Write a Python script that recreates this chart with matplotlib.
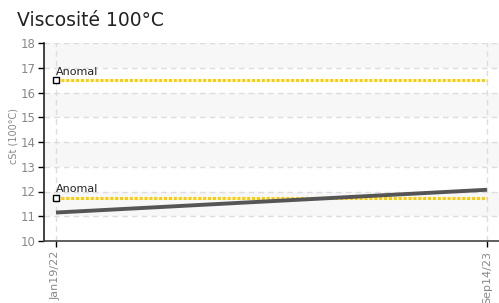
import matplotlib
matplotlib.use("Agg")
import matplotlib.pyplot as plt
from datetime import datetime, timedelta

dates = [datetime(2022, 1, 19), datetime(2023, 9, 14)]
values = [11.15, 12.07]
anomal_levels = [16.5, 11.75]
anomal_label = "Anomal"
tick_labels = ["Jan19/22", "Sep14/23"]
title = "Viscosité 100°C"
ylabel = "cSt (100°C)"

fig = plt.figure(figsize=(4.99, 3.03), dpi=100)
ax = fig.add_axes([44/499, 62/303, 455/499, 198/303])

ax.set_ylim(10, 18)
pad = timedelta(days=16.8)
ax.set_xlim(dates[0] - pad, dates[-1] + pad)

# alternating bands
for lo in range(10, 18):
    if lo % 2 == 1:
        ax.axhspan(lo, lo + 1, color="#f7f7f7", zorder=0, lw=0)

for y in range(10, 19):
    ax.axhline(y, color="#dddddd", lw=1, ls=(0, (4, 3)), zorder=1)
for d in dates:
    ax.axvline(d, color="#dddddd", lw=1, ls=(0, (4, 3)), zorder=1)

for lvl in anomal_levels:
    ax.plot(dates, [lvl, lvl], color="#ffcc00", lw=2.2, ls=(0, (1, 0.6)), zorder=3)
    ax.plot([dates[0]], [lvl], marker="s", ms=4.5, mfc="white", mec="black", mew=1, zorder=5)
    ax.text(dates[0], lvl + 0.14, anomal_label, fontsize=8, color="#222222",
            ha="left", va="bottom", zorder=6)

ax.plot(dates, values, color="#555555", lw=2.8, zorder=4, solid_capstyle="butt")

ax.set_xticks(dates)
ax.set_xticklabels(tick_labels, rotation=90, fontsize=8, color="#888888")
ax.set_yticks(range(10, 19))
ax.set_yticklabels([str(v) for v in range(10, 19)], fontsize=8.5, color="#888888")
ax.tick_params(axis="y", length=4, width=1, color="black", pad=2)
ax.tick_params(axis="x", length=4, width=1, color="black", pad=3)

for s in ["top", "right"]:
    ax.spines[s].set_visible(False)
ax.spines["left"].set_color("#222222")
ax.spines["bottom"].set_color("#444444")
ax.spines["left"].set_linewidth(1.2)
ax.spines["bottom"].set_linewidth(1.2)

ax.set_ylabel(ylabel, fontsize=7, color="#888888", labelpad=1)
ax.yaxis.set_label_coords(-0.055, 0.53)
fig.text(17/499, 1 - 21/303, title, fontsize=13.5, color="#222222", va="center", ha="left")

fig.savefig("out.png", dpi=100)
